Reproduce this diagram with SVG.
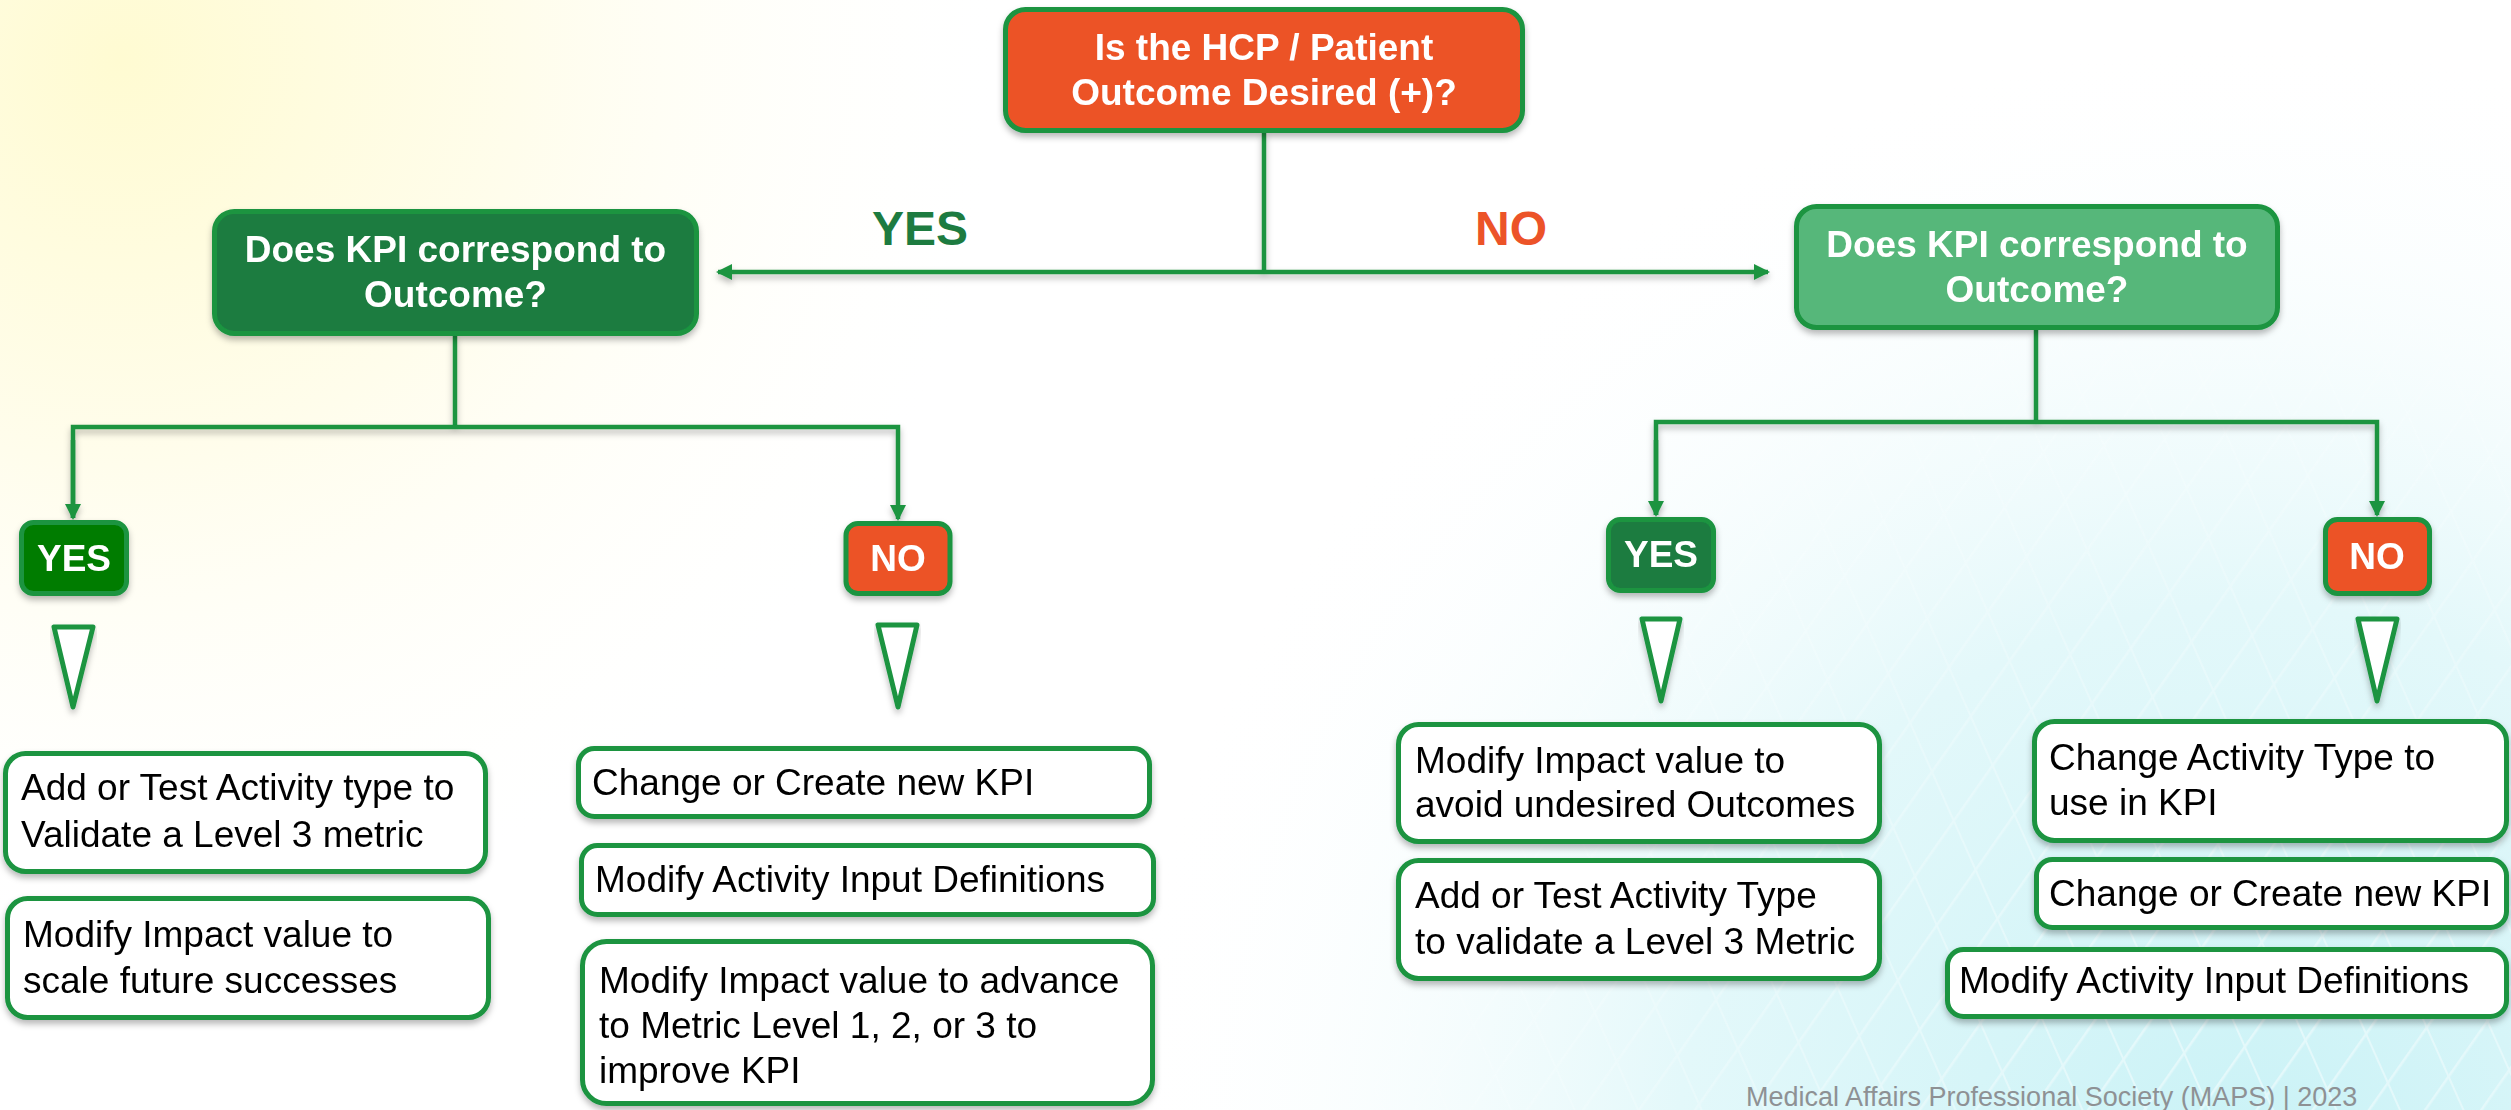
<svg xmlns="http://www.w3.org/2000/svg" width="2511" height="1110" viewBox="0 0 2511 1110">
  <defs>
    <radialGradient id="glowWarm" cx="120" cy="60" r="900" gradientUnits="userSpaceOnUse">
      <stop offset="0" stop-color="#fffbd2"/>
      <stop offset="0.45" stop-color="#fffdec"/>
      <stop offset="1" stop-color="#ffffff" stop-opacity="0"/>
    </radialGradient>
    <radialGradient id="glowCool" cx="2250" cy="1180" r="1150" gradientUnits="userSpaceOnUse">
      <stop offset="0" stop-color="#c9f2f6"/>
      <stop offset="0.5" stop-color="#e3f8fa"/>
      <stop offset="1" stop-color="#ffffff" stop-opacity="0"/>
    </radialGradient>
    <radialGradient id="meshFade" cx="2250" cy="1180" r="1000" gradientUnits="userSpaceOnUse">
      <stop offset="0" stop-color="#fff" stop-opacity="1"/>
      <stop offset="1" stop-color="#fff" stop-opacity="0"/>
    </radialGradient>
    <mask id="meshMask">
      <rect x="0" y="0" width="2511" height="1110" fill="url(#meshFade)"/>
    </mask>
    <pattern id="meshA" width="46" height="46" patternUnits="userSpaceOnUse" patternTransform="rotate(35)">
      <line x1="0" y1="0" x2="0" y2="46" stroke="#ffffff" stroke-width="5"/>
    </pattern>
    <pattern id="meshB" width="58" height="58" patternUnits="userSpaceOnUse" patternTransform="rotate(-24)">
      <line x1="0" y1="0" x2="0" y2="58" stroke="#ffffff" stroke-width="4"/>
    </pattern>
    <filter id="shadow" x="-10%" y="-10%" width="120%" height="140%">
      <feDropShadow dx="0" dy="4" stdDeviation="3" flood-color="#000" flood-opacity="0.28"/>
    </filter>
    <marker id="arrow" viewBox="0 0 16 16" refX="14" refY="8" markerWidth="16" markerHeight="16" markerUnits="userSpaceOnUse" orient="auto-start-reverse">
      <path d="M0,0 L16,8 L0,16 z" fill="#1a9441"/>
    </marker>
    <style>
      .lbl { font-family: "Liberation Sans", Arial, sans-serif; }
      .q { font-weight: bold; font-size: 37px; fill: #ffffff; text-anchor: middle; }
      .tag { font-weight: bold; font-size: 37px; fill: #ffffff; text-anchor: middle; }
      .act { font-size: 37px; fill: #000000; }
      .ans { font-weight: bold; font-size: 48px; text-anchor: middle; }
      .box { stroke: #1a9441; stroke-width: 5; }
      .card { fill: #ffffff; stroke: #1a9441; stroke-width: 5; }
      .tri { fill: #ffffff; stroke: #1a9441; stroke-width: 5; stroke-linejoin: round; }
      .wire { fill: none; stroke: #1a9441; stroke-width: 4.5; }
    </style>
  </defs>

  <!-- background -->
  <rect x="0" y="0" width="2511" height="1110" fill="#ffffff"/>
  <rect x="0" y="0" width="2511" height="1110" fill="url(#glowWarm)"/>
  <rect x="0" y="0" width="2511" height="1110" fill="url(#glowCool)"/>
  <g mask="url(#meshMask)" opacity="0.5">
    <rect x="0" y="0" width="2511" height="1110" fill="url(#meshA)"/>
    <rect x="0" y="0" width="2511" height="1110" fill="url(#meshB)"/>
  </g>

  <!-- connectors -->
  <g id="connectors" filter="url(#shadow)">
    <line class="wire" x1="1264" y1="133" x2="1264" y2="272"/>
    <line class="wire" x1="718" y1="272" x2="1768" y2="272" marker-start="url(#arrow)" marker-end="url(#arrow)"/>
    <polyline class="wire" points="455,336 455,427"/>
    <polyline class="wire" points="73,518 73,427 898,427 898,519" marker-end="url(#arrow)"/>
    <line class="wire" x1="73" y1="440" x2="73" y2="518" marker-end="url(#arrow)"/>
    <polyline class="wire" points="2036,330 2036,422"/>
    <polyline class="wire" points="1656,515 1656,422 2377,422 2377,515" marker-end="url(#arrow)"/>
    <line class="wire" x1="1656" y1="440" x2="1656" y2="515" marker-end="url(#arrow)"/>
  </g>

  <!-- answer labels on the main branch -->
  <text class="lbl ans" x="920" y="245" fill="#1d7b40">YES</text>
  <text class="lbl ans" x="1511" y="245" fill="#ec5328">NO</text>

  <!-- root question -->
  <g id="node-outcome" filter="url(#shadow)">
    <rect class="box" x="1005.5" y="9.5" width="517" height="121" rx="20" fill="#ec5328"/>
    <text class="lbl q" x="1264" y="60">Is the HCP / Patient</text>
    <text class="lbl q" x="1264" y="105">Outcome Desired (+)?</text>
  </g>

  <!-- KPI questions -->
  <g id="node-kpi-yes" filter="url(#shadow)">
    <rect class="box" x="214.5" y="211.5" width="482" height="122" rx="20" fill="#1b7b3f"/>
    <text class="lbl q" x="455.5" y="262">Does KPI correspond to</text>
    <text class="lbl q" x="455.5" y="307">Outcome?</text>
  </g>
  <g id="node-kpi-no" filter="url(#shadow)">
    <rect class="box" x="1796.5" y="206.5" width="481" height="121" rx="20" fill="#57b77a"/>
    <text class="lbl q" x="2037" y="257">Does KPI correspond to</text>
    <text class="lbl q" x="2037" y="302">Outcome?</text>
  </g>

  <!-- yes / no tags -->
  <g id="tag-left-yes" filter="url(#shadow)">
    <rect class="box" x="21.5" y="522.5" width="105" height="71" rx="12" fill="#027b02"/>
    <text class="lbl tag" x="74" y="571">YES</text>
  </g>
  <g id="tag-left-no" filter="url(#shadow)">
    <rect class="box" x="846" y="523.5" width="104" height="70" rx="12" fill="#ec5328"/>
    <text class="lbl tag" x="898" y="571">NO</text>
  </g>
  <g id="tag-right-yes" filter="url(#shadow)">
    <rect class="box" x="1608.5" y="519.5" width="105" height="71" rx="12" fill="#1b7b3f"/>
    <text class="lbl tag" x="1661" y="567">YES</text>
  </g>
  <g id="tag-right-no" filter="url(#shadow)">
    <rect class="box" x="2325.5" y="519.5" width="104" height="74" rx="12" fill="#ec5328"/>
    <text class="lbl tag" x="2377" y="569">NO</text>
  </g>

  <!-- hollow pointers -->
  <g id="pointer-left-yes" filter="url(#shadow)"><polygon class="tri" points="54,627 93,627 73,707"/></g>
  <g id="pointer-left-no" filter="url(#shadow)"><polygon class="tri" points="878,625 917,625 898,707"/></g>
  <g id="pointer-right-yes" filter="url(#shadow)"><polygon class="tri" points="1642,619 1680,619 1661,701"/></g>
  <g id="pointer-right-no" filter="url(#shadow)"><polygon class="tri" points="2358,619 2397,619 2377,701"/></g>

  <!-- actions: desired outcome, KPI matches -->
  <g id="act-add-test" filter="url(#shadow)">
    <rect class="card" x="5.5" y="753.5" width="480" height="118" rx="20"/>
    <text class="lbl act" x="21" y="800">Add or Test Activity type to</text>
    <text class="lbl act" x="21" y="847">Validate a Level 3 metric</text>
  </g>
  <g id="act-scale" filter="url(#shadow)">
    <rect class="card" x="7.5" y="898.5" width="481" height="119" rx="20"/>
    <text class="lbl act" x="23" y="947">Modify Impact value to</text>
    <text class="lbl act" x="23" y="993">scale future successes</text>
  </g>

  <!-- actions: desired outcome, KPI does not match -->
  <g id="act-kpi-left" filter="url(#shadow)">
    <rect class="card" x="578.5" y="748.5" width="571" height="68" rx="16"/>
    <text class="lbl act" x="592" y="795">Change or Create new KPI</text>
  </g>
  <g id="act-inputs-left" filter="url(#shadow)">
    <rect class="card" x="581.5" y="845.5" width="572" height="69" rx="16"/>
    <text class="lbl act" x="595" y="892">Modify Activity Input Definitions</text>
  </g>
  <g id="act-advance" filter="url(#shadow)">
    <rect class="card" x="582.5" y="941.5" width="570" height="162" rx="24"/>
    <text class="lbl act" x="599" y="993">Modify Impact value to advance</text>
    <text class="lbl act" x="599" y="1038">to Metric Level 1, 2, or 3 to</text>
    <text class="lbl act" x="599" y="1083">improve KPI</text>
  </g>

  <!-- actions: undesired outcome, KPI matches -->
  <g id="act-avoid" filter="url(#shadow)">
    <rect class="card" x="1398.5" y="724.5" width="481" height="117" rx="20"/>
    <text class="lbl act" x="1415" y="773">Modify Impact value to</text>
    <text class="lbl act" x="1415" y="817">avoid undesired Outcomes</text>
  </g>
  <g id="act-validate" filter="url(#shadow)">
    <rect class="card" x="1398.5" y="860.5" width="481" height="118" rx="20"/>
    <text class="lbl act" x="1415" y="908">Add or Test Activity Type</text>
    <text class="lbl act" x="1415" y="954">to validate a Level 3 Metric</text>
  </g>

  <!-- actions: undesired outcome, KPI does not match -->
  <g id="act-type" filter="url(#shadow)">
    <rect class="card" x="2034.5" y="721.5" width="472" height="119" rx="20"/>
    <text class="lbl act" x="2049" y="770">Change Activity Type to</text>
    <text class="lbl act" x="2049" y="815">use in KPI</text>
  </g>
  <g id="act-kpi-right" filter="url(#shadow)">
    <rect class="card" x="2036.5" y="859.5" width="470" height="68" rx="16"/>
    <text class="lbl act" x="2049" y="906">Change or Create new KPI</text>
  </g>
  <g id="act-inputs-right" filter="url(#shadow)">
    <rect class="card" x="1947.5" y="949.5" width="559" height="67" rx="16"/>
    <text class="lbl act" x="1959" y="993">Modify Activity Input Definitions</text>
  </g>

  <!-- footer -->
  <text class="lbl" x="1746" y="1106" font-size="27" fill="#8e9194">Medical Affairs Professional Society (MAPS) | 2023</text>
</svg>
